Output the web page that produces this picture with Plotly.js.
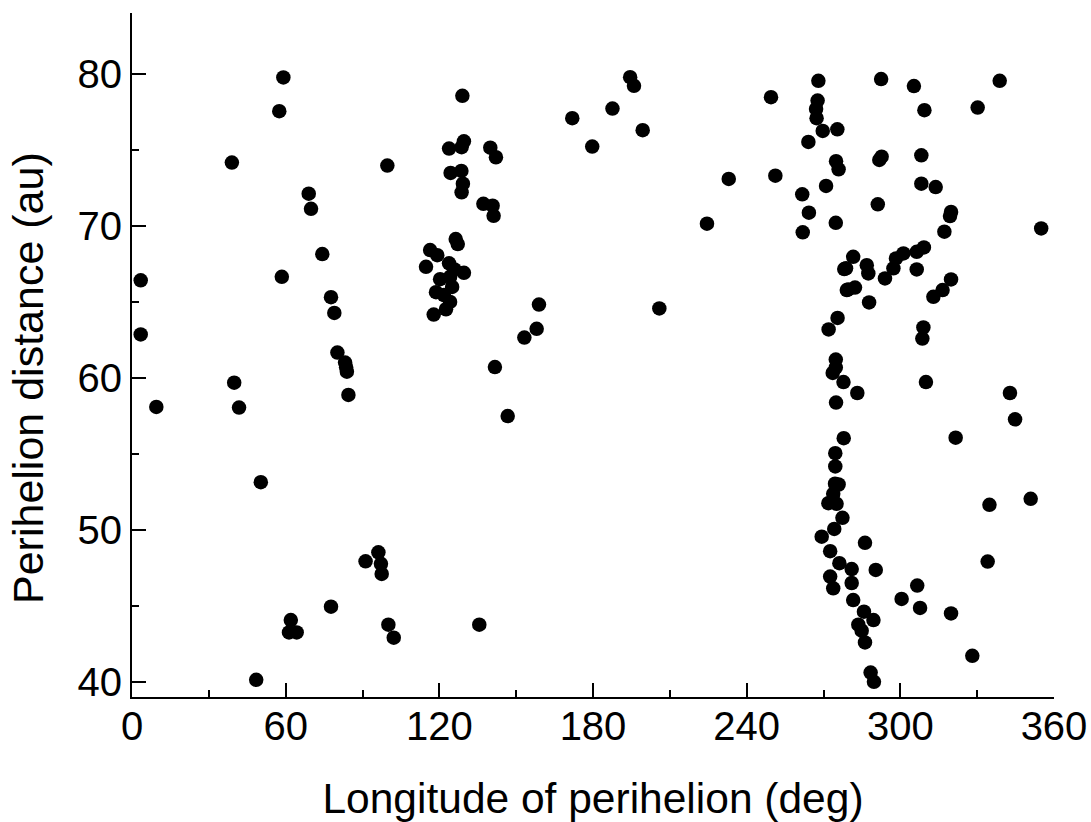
<!DOCTYPE html>
<html>
<head>
<meta charset="utf-8">
<script src="https://cdn.plot.ly/plotly-3.0.1.min.js"></script>
<style>html,body{margin:0;padding:0;background:#fff;}#chart{width:1091px;height:822px;}</style>
</head>
<body>
<div id="chart"></div>
<script>
// Longitude of perihelion (deg)
const longitude = [
  59.1, 57.5, 39.0, 69.0, 69.9,
  129.0, 99.7, 129.6, 128.7, 123.8, 139.9, 142.1, 124.4, 128.6, 129.2, 128.7, 137.2, 140.8, 141.2,
  171.9, 179.7, 194.5, 196.0, 187.6, 199.4,
  249.5, 268.0, 267.7, 267.1, 267.3, 269.7, 275.4, 264.1, 274.9, 275.9, 271.0, 261.7, 264.3, 274.8, 261.9,
  233.0, 251.2, 224.5,
  292.5, 305.3, 338.8, 309.4, 330.2, 292.7, 291.8, 308.2, 308.2, 313.8, 291.2, 319.8, 319.4, 317.2, 355.0,
  74.3, 3.4, 58.5, 77.7, 79.0, 3.4, 80.2, 83.2, 83.6, 83.9, 84.5, 39.9, 41.8, 9.5,
  126.4, 127.2, 116.4, 119.2, 114.8, 123.8, 125.9, 129.6, 120.3, 124.2, 125.0, 118.7, 121.8, 124.2, 122.6, 117.8,
  158.9, 158.0, 153.2, 141.7, 146.7,
  205.9, 278.1, 279.1, 275.5, 272.0, 274.8, 274.8, 273.6, 277.8, 274.9, 277.9, 274.6, 274.6,
  281.6, 278.8, 286.9, 287.5, 279.7, 282.3, 287.8, 294.0, 297.3, 298.3, 301.2, 306.4, 309.2, 306.4,
  319.8, 316.5, 312.9, 309.0, 308.6, 310.0, 283.2, 342.8, 344.8, 321.6,
  50.3, 91.2, 77.7, 62.0, 61.3, 64.3, 48.5, 96.2, 97.2, 97.5, 100.1, 102.2, 135.6,
  274.5, 275.9, 273.8, 271.9, 275.1, 277.4, 274.2, 269.3, 272.6, 276.2, 272.6, 273.8,
  286.2, 281.0, 290.4, 281.0, 281.6, 285.8, 289.5, 283.6, 284.9, 286.2, 288.4, 289.7,
  306.6, 300.5, 307.7, 319.8, 328.1, 334.8, 350.9, 334.1
];
// Perihelion distance (au)
const perihelion = [
  79.76, 77.54, 74.16, 72.11, 71.12,
  78.55, 73.96, 75.56, 75.17, 75.08, 75.14, 74.51, 73.48, 73.61, 72.77, 72.20, 71.45, 71.32, 70.66,
  77.08, 75.21, 79.78, 79.21, 77.71, 76.29,
  78.46, 79.54, 78.24, 77.69, 77.08, 76.24, 76.35, 75.52, 74.25, 73.72, 72.62, 72.07, 70.86, 70.20, 69.57,
  73.08, 73.30, 70.14,
  79.65, 79.19, 79.54, 77.61, 77.78, 74.55, 74.33, 74.64, 72.77, 72.55, 71.41, 70.91, 70.64, 69.61, 69.83,
  68.14, 66.41, 66.64, 65.30, 64.27, 62.85, 61.66, 61.00, 60.70, 60.40, 58.87, 59.68, 58.04, 58.08,
  69.13, 68.80, 68.40, 68.07, 67.30, 67.53, 67.13, 66.91, 66.49, 66.64, 65.98, 65.63, 65.44, 64.99, 64.51, 64.16,
  64.82, 63.22, 62.65, 60.71, 57.48,
  64.56, 67.15, 65.77, 63.94, 63.18, 61.20, 60.67, 60.32, 59.72, 58.37, 56.03, 55.04, 54.17,
  67.96, 67.20, 67.41, 66.87, 65.81, 65.94, 64.96, 66.54, 67.20, 67.85, 68.18, 68.29, 68.58, 67.13,
  66.47, 65.77, 65.33, 63.31, 62.58, 59.72, 59.00, 59.00, 57.27, 56.06,
  53.13, 47.93, 44.94, 44.06, 43.25, 43.25, 40.13, 48.52, 47.76, 47.10, 43.76, 42.90, 43.76,
  53.03, 52.98, 52.37, 51.75, 51.71, 50.79, 50.06, 49.55, 48.59, 47.80, 46.92, 46.15,
  49.14, 47.42, 47.36, 46.50, 45.38, 44.61, 44.06, 43.76, 43.36, 42.59, 40.61, 40.00,
  46.33, 45.45, 44.86, 44.50, 41.71, 51.64, 52.04, 47.91
];
const xTicks = [0, 60, 120, 180, 240, 300, 360];
const yTicks = [40, 50, 60, 70, 80];
const xTitle = 'Longitude of perihelion (deg)';
const yTitle = 'Perihelion distance (au)';

const FONT = 'Liberation Sans, Arial, sans-serif';

Plotly.newPlot('chart', [{
  type: 'scatter',
  mode: 'markers',
  x: longitude,
  y: perihelion,
  marker: {color: '#000000', size: 14.5, line: {width: 0}},
  hoverinfo: 'x+y'
}], {
  width: 1091,
  height: 822,
  margin: {l: 132, r: 37, t: 13, b: 125},
  paper_bgcolor: '#ffffff',
  plot_bgcolor: '#ffffff',
  showlegend: false,
  font: {family: FONT, color: '#000000'},
  xaxis: {
    range: [0, 360],
    tickvals: xTicks,
    ticktext: xTicks.map(String),
    ticks: 'inside',
    ticklen: 14,
    tickwidth: 2,
    tickcolor: '#000',
    showline: true,
    linewidth: 2,
    linecolor: '#000',
    showgrid: false,
    zeroline: false,
    mirror: false,
    ticklabelstandoff: -7,
    tickfont: {family: FONT, size: 40, color: '#000'},
    minor: {dtick: 30, tick0: 0, ticks: 'inside', ticklen: 7, tickwidth: 2, tickcolor: '#000', showgrid: false},
    title: {text: xTitle, font: {family: FONT, size: 42.5, color: '#000'}, standoff: 36}
  },
  yaxis: {
    range: [39, 84],
    tickvals: yTicks,
    ticktext: yTicks.map(String),
    ticks: 'inside',
    ticklen: 14,
    tickwidth: 2,
    tickcolor: '#000',
    showline: true,
    linewidth: 2,
    linecolor: '#000',
    showgrid: false,
    zeroline: false,
    mirror: false,
    tickfont: {family: FONT, size: 40, color: '#000'},
    minor: {dtick: 5, tick0: 40, ticks: 'inside', ticklen: 7, tickwidth: 2, tickcolor: '#000', showgrid: false}
  },
  annotations: [{
    text: yTitle,
    xref: 'paper', yref: 'paper',
    x: -0.1128, y: 0.4664,
    xanchor: 'center', yanchor: 'middle',
    textangle: -90,
    showarrow: false,
    font: {family: FONT, size: 43, color: '#000'}
  }]
}, {displayModeBar: false, staticPlot: true});
</script>
</body>
</html>
